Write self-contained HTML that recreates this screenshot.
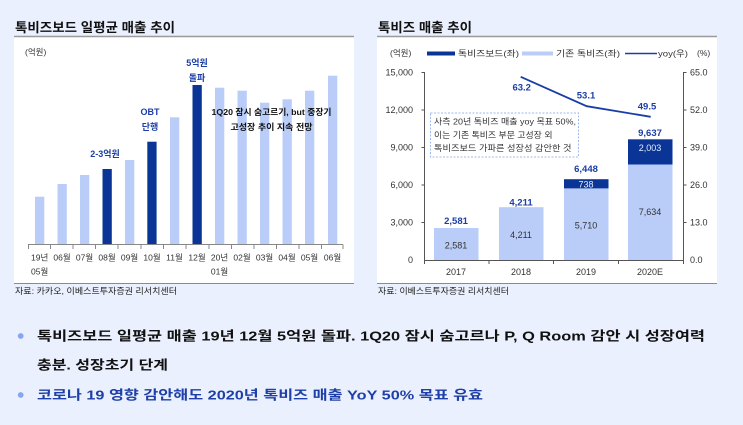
<!DOCTYPE html>
<html><head><meta charset="utf-8">
<style>
html,body{margin:0;padding:0;background:#eaf0fd;}
svg{display:block;}
text{font-family:"Liberation Sans","Noto Sans CJK KR","NanumGothic",sans-serif;}
</style></head>
<body>
<svg width="743" height="425" viewBox="0 0 743 425" xmlns="http://www.w3.org/2000/svg">
<rect x="0" y="0" width="743" height="425" fill="#eaf0fd"/>

<!-- Titles -->
<text x="15" y="32" font-size="13" font-weight="bold" fill="#111" textLength="160" lengthAdjust="spacingAndGlyphs">톡비즈보드 일평균 매출 추이</text>
<text x="378" y="32" font-size="13" font-weight="bold" fill="#111" textLength="94" lengthAdjust="spacingAndGlyphs">톡비즈 매출 추이</text>

<!-- Panels -->
<rect x="14" y="37" width="340" height="246" fill="#ffffff"/>
<rect x="377" y="37" width="340" height="246" fill="#ffffff"/>
<line x1="14" y1="36.5" x2="354" y2="36.5" stroke="#9a9a9a" stroke-width="1.5"/>
<line x1="377" y1="36.5" x2="717" y2="36.5" stroke="#9a9a9a" stroke-width="1.5"/>
<line x1="14" y1="283.5" x2="354" y2="283.5" stroke="#8a8a8a" stroke-width="1"/>
<line x1="377" y1="283.5" x2="717" y2="283.5" stroke="#8a8a8a" stroke-width="1"/>

<!-- Sources -->
<text x="15" y="294" font-size="8.5" fill="#222" textLength="162" lengthAdjust="spacingAndGlyphs">자료: 카카오, 이베스트투자증권 리서치센터</text>
<text x="378" y="294" font-size="8.5" fill="#222" textLength="131" lengthAdjust="spacingAndGlyphs">자료: 이베스트투자증권 리서치센터</text>

<!-- ===== LEFT CHART ===== -->
<text x="25" y="55" font-size="8.5" fill="#333">(억원)</text>
<g>
<rect x="35" y="196.7" width="9.3" height="47.3" fill="#b9cdf8"/>
<rect x="57.5" y="184" width="9.3" height="60" fill="#b9cdf8"/>
<rect x="80" y="175" width="9.3" height="69" fill="#b9cdf8"/>
<rect x="102.5" y="169" width="9.3" height="75" fill="#0a3597"/>
<rect x="125" y="160" width="9.3" height="84" fill="#b9cdf8"/>
<rect x="147.3" y="141.7" width="9.3" height="102.3" fill="#0a3597"/>
<rect x="170" y="117.3" width="9.3" height="126.7" fill="#b9cdf8"/>
<rect x="192.5" y="85" width="9.3" height="159" fill="#0a3597"/>
<rect x="215" y="87.7" width="9.3" height="156.3" fill="#b9cdf8"/>
<rect x="237.5" y="90.7" width="9.3" height="153.3" fill="#b9cdf8"/>
<rect x="260" y="102.7" width="9.3" height="141.3" fill="#b9cdf8"/>
<rect x="282.5" y="99.3" width="9.3" height="144.7" fill="#b9cdf8"/>
<rect x="305" y="90.7" width="9.3" height="153.3" fill="#b9cdf8"/>
<rect x="328" y="75.7" width="9.3" height="168.3" fill="#b9cdf8"/>
</g>
<line x1="28" y1="244.5" x2="343" y2="244.5" stroke="#888" stroke-width="1"/>
<g stroke="#888" stroke-width="1">
<line x1="28.5" y1="244.5" x2="28.5" y2="249"/>
<line x1="50.5" y1="244.5" x2="50.5" y2="249"/>
<line x1="73" y1="244.5" x2="73" y2="249"/>
<line x1="95.5" y1="244.5" x2="95.5" y2="249"/>
<line x1="118" y1="244.5" x2="118" y2="249"/>
<line x1="141" y1="244.5" x2="141" y2="249"/>
<line x1="163.5" y1="244.5" x2="163.5" y2="249"/>
<line x1="186" y1="244.5" x2="186" y2="249"/>
<line x1="209" y1="244.5" x2="209" y2="249"/>
<line x1="231.5" y1="244.5" x2="231.5" y2="249"/>
<line x1="254" y1="244.5" x2="254" y2="249"/>
<line x1="276.5" y1="244.5" x2="276.5" y2="249"/>
<line x1="299" y1="244.5" x2="299" y2="249"/>
<line x1="321.5" y1="244.5" x2="321.5" y2="249"/>
<line x1="343" y1="244.5" x2="343" y2="249"/>
</g>
<g font-size="8.5" fill="#333" text-anchor="middle">
<text x="39.7" y="260.5">19년</text>
<text x="39.7" y="274.5">05월</text>
<text x="62" y="260.5">06월</text>
<text x="84.5" y="260.5">07월</text>
<text x="107" y="260.5">08월</text>
<text x="129.5" y="260.5">09월</text>
<text x="152" y="260.5">10월</text>
<text x="174.5" y="260.5">11월</text>
<text x="197" y="260.5">12월</text>
<text x="219.5" y="260.5">20년</text>
<text x="219.5" y="274.5">01월</text>
<text x="242" y="260.5">02월</text>
<text x="264.5" y="260.5">03월</text>
<text x="287" y="260.5">04월</text>
<text x="309.5" y="260.5">05월</text>
<text x="332.5" y="260.5">06월</text>
</g>
<g font-size="9" font-weight="bold" fill="#1b3ea6" text-anchor="middle">
<text x="197" y="66">5억원</text>
<text x="197" y="81">돌파</text>
<text x="150" y="115">OBT</text>
<text x="150" y="130">단행</text>
<text x="105" y="157">2-3억원</text>
</g>
<g font-size="8.5" font-weight="bold" fill="#111" text-anchor="middle">
<text x="271.5" y="115" textLength="120" lengthAdjust="spacingAndGlyphs">1Q20 잠시 숨고르기, but 중장기</text>
<text x="271.5" y="130" textLength="82" lengthAdjust="spacingAndGlyphs">고성장 추이 지속 전망</text>
</g>

<!-- ===== RIGHT CHART ===== -->
<!-- legend -->
<text x="390" y="56" font-size="8.5" fill="#333">(억원)</text>
<rect x="427" y="51.5" width="28" height="4" fill="#0a3597"/>
<text x="458" y="56.5" font-size="8.5" fill="#333" textLength="61" lengthAdjust="spacingAndGlyphs">톡비즈보드(좌)</text>
<rect x="522" y="51.5" width="31" height="4" fill="#b9cdf8"/>
<text x="556" y="56.5" font-size="8.5" fill="#333" textLength="64" lengthAdjust="spacingAndGlyphs">기존 톡비즈(좌)</text>
<line x1="625" y1="53.5" x2="657" y2="53.5" stroke="#1b3ea6" stroke-width="1.5"/>
<text x="658" y="56.5" font-size="8.5" fill="#333" textLength="30" lengthAdjust="spacingAndGlyphs">yoy(우)</text>
<text x="697" y="56" font-size="8.5" fill="#333">(%)</text>

<!-- axes -->
<line x1="424.5" y1="72" x2="424.5" y2="260" stroke="#555" stroke-width="1"/>
<line x1="683.5" y1="72" x2="683.5" y2="260" stroke="#555" stroke-width="1"/>
<line x1="424" y1="260.5" x2="684" y2="260.5" stroke="#555" stroke-width="1"/>
<g stroke="#555" stroke-width="1">
<line x1="421.5" y1="72.5" x2="424.5" y2="72.5"/>
<line x1="421.5" y1="110" x2="424.5" y2="110"/>
<line x1="421.5" y1="147.5" x2="424.5" y2="147.5"/>
<line x1="421.5" y1="185" x2="424.5" y2="185"/>
<line x1="421.5" y1="222.5" x2="424.5" y2="222.5"/>
<line x1="683.5" y1="72.5" x2="686.5" y2="72.5"/>
<line x1="683.5" y1="110" x2="686.5" y2="110"/>
<line x1="683.5" y1="147.5" x2="686.5" y2="147.5"/>
<line x1="683.5" y1="185" x2="686.5" y2="185"/>
<line x1="683.5" y1="222.5" x2="686.5" y2="222.5"/>
<line x1="424.5" y1="260.5" x2="424.5" y2="264"/>
<line x1="489" y1="260.5" x2="489" y2="264"/>
<line x1="553.5" y1="260.5" x2="553.5" y2="264"/>
<line x1="618.5" y1="260.5" x2="618.5" y2="264"/>
<line x1="683.5" y1="260.5" x2="683.5" y2="264"/>
</g>
<g font-size="9" fill="#333" text-anchor="end">
<text x="413" y="75.5">15,000</text>
<text x="413" y="113">12,000</text>
<text x="413" y="150.5">9,000</text>
<text x="413" y="188">6,000</text>
<text x="413" y="225.5">3,000</text>
<text x="413" y="263">0</text>
</g>
<g font-size="9" fill="#333">
<text x="690" y="75.5">65.0</text>
<text x="690" y="113">52.0</text>
<text x="690" y="150.5">39.0</text>
<text x="690" y="188">26.0</text>
<text x="690" y="225.5">13.0</text>
<text x="690" y="263">0.0</text>
</g>
<g font-size="9" fill="#333" text-anchor="middle">
<text x="456" y="275">2017</text>
<text x="521" y="275">2018</text>
<text x="586" y="275">2019</text>
<text x="650" y="275">2020E</text>
</g>

<!-- bars -->
<rect x="434" y="228" width="44.5" height="32" fill="#b9cdf8"/>
<rect x="499" y="207.2" width="44.5" height="52.8" fill="#b9cdf8"/>
<rect x="564" y="188.4" width="44.5" height="71.6" fill="#b9cdf8"/>
<rect x="564" y="179.2" width="44.5" height="9.2" fill="#0a3597"/>
<rect x="628" y="164.5" width="44.5" height="95.5" fill="#b9cdf8"/>
<rect x="628" y="139.3" width="44.5" height="25.2" fill="#0a3597"/>

<g font-size="9" fill="#333" text-anchor="middle">
<text x="456" y="248.5">2,581</text>
<text x="521" y="238">4,211</text>
<text x="586" y="228.5">5,710</text>
<text x="650" y="215">7,634</text>
</g>
<g font-size="9" fill="#e8eeff" text-anchor="middle">
<text x="586" y="187.5">738</text>
<text x="650" y="151">2,003</text>
</g>
<g font-size="9.5" font-weight="bold" fill="#1b3ea6" text-anchor="middle">
<text x="456" y="224">2,581</text>
<text x="521" y="205.5">4,211</text>
<text x="586" y="172">6,448</text>
<text x="650" y="136">9,637</text>
</g>

<!-- yoy line -->
<polyline points="520.7,76.8 586.7,106.2 650.7,116.8" fill="none" stroke="#1b3ea6" stroke-width="1.8"/>
<g font-size="9.5" font-weight="bold" fill="#1b3ea6" text-anchor="middle">
<text x="521.7" y="90.5">63.2</text>
<text x="586" y="98.5">53.1</text>
<text x="647" y="109.5">49.5</text>
</g>

<!-- note box -->
<rect x="430.5" y="113" width="148" height="44" fill="#ffffff" stroke="#9db8ee" stroke-width="1" stroke-dasharray="2,1.5"/>
<g font-size="8.5" fill="#333">
<text x="434" y="124.5" textLength="142" lengthAdjust="spacingAndGlyphs">사측 20년 톡비즈 매출 yoy 목표 50%,</text>
<text x="434" y="138" textLength="118.5" lengthAdjust="spacingAndGlyphs">이는 기존 톡비즈 부문 고성장 외</text>
<text x="434" y="151" textLength="137.5" lengthAdjust="spacingAndGlyphs">톡비즈보드 가파른 성장성 감안한 것</text>
</g>

<!-- ===== BULLETS ===== -->
<circle cx="20.7" cy="336" r="2.9" fill="#86a5f2"/>
<text x="37" y="340.5" font-size="13" font-weight="bold" fill="#111" textLength="668" lengthAdjust="spacingAndGlyphs">톡비즈보드 일평균 매출 19년 12월 5억원 돌파. 1Q20 잠시 숨고르나 P, Q Room 감안 시 성장여력</text>
<text x="37" y="369.5" font-size="13" font-weight="bold" fill="#111" textLength="131" lengthAdjust="spacingAndGlyphs">충분. 성장초기 단계</text>
<circle cx="20.7" cy="395" r="2.9" fill="#86a5f2"/>
<text x="37" y="399.5" font-size="13" font-weight="bold" fill="#1f3fa8" textLength="446" lengthAdjust="spacingAndGlyphs">코로나 19 영향 감안해도 2020년 톡비즈 매출 YoY 50% 목표 유효</text>
</svg>
</body></html>
